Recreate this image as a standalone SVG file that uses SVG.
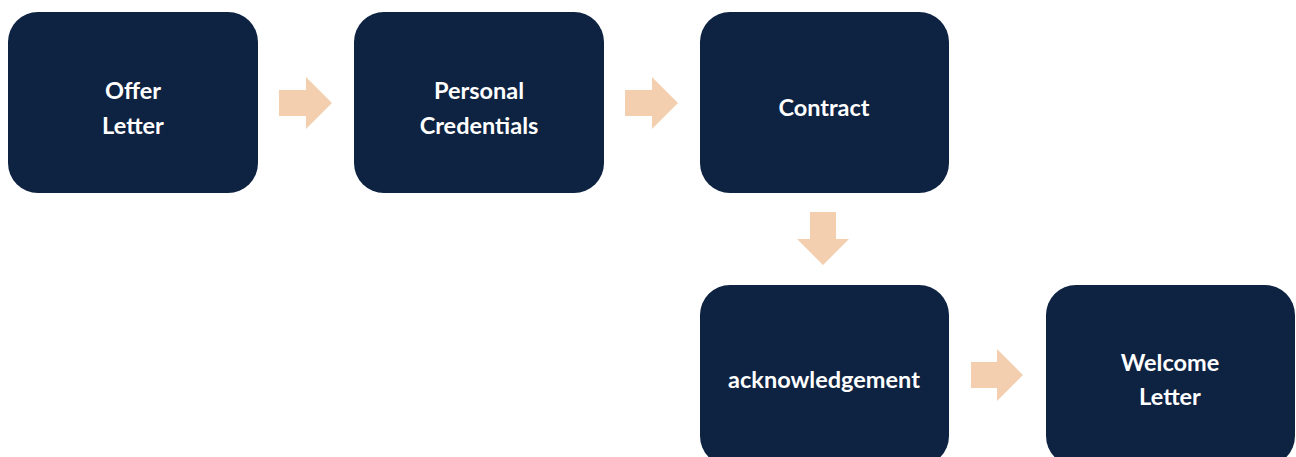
<svg xmlns="http://www.w3.org/2000/svg" width="1296" height="457" viewBox="0 0 1296 457">
  <defs>
    <style>
      .node rect { fill: #0E2241; }
      .node text { fill: #FFFFFF; font-family: Lato, "Open Sans", "Liberation Sans", sans-serif; font-weight: 700; font-size: 23.5px; text-anchor: middle; }
      .arrow { fill: #F4CFAF; }
    </style>
  </defs>
  <rect width="1296" height="457" fill="#FFFFFF"/>

  <!-- block arrows between the steps -->
  <g id="connectors">
    <polygon class="arrow" points="279,90 306,90 306,77 332,103 306,129 306,116 279,116"/>
    <polygon class="arrow" points="625,90 652,90 652,77 678,103 652,129 652,116 625,116"/>
    <polygon class="arrow" points="810,212 836,212 836,239 849,239 823,265 797,239 810,239"/>
    <polygon class="arrow" points="971,362 997,362 997,349 1023,375 997,401 997,388 971,388"/>
  </g>

  <g id="node-offer-letter" class="node">
    <rect x="8" y="12" width="250" height="181" rx="30"/>
    <text x="133" y="99">Offer</text>
    <text x="133" y="134">Letter</text>
  </g>

  <g id="node-personal-credentials" class="node">
    <rect x="354" y="12" width="250" height="181" rx="30"/>
    <text x="479" y="99">Personal</text>
    <text x="479" y="134">Credentials</text>
  </g>

  <g id="node-contract" class="node">
    <rect x="700" y="12" width="249" height="181" rx="30"/>
    <text x="824" y="116">Contract</text>
  </g>

  <g id="node-acknowledgement" class="node">
    <rect x="700" y="285" width="249" height="181" rx="30"/>
    <text x="824" y="388">acknowledgement</text>
  </g>

  <g id="node-welcome-letter" class="node">
    <rect x="1046" y="285" width="249" height="181" rx="30"/>
    <text x="1170" y="371">Welcome</text>
    <text x="1170" y="405">Letter</text>
  </g>
</svg>
